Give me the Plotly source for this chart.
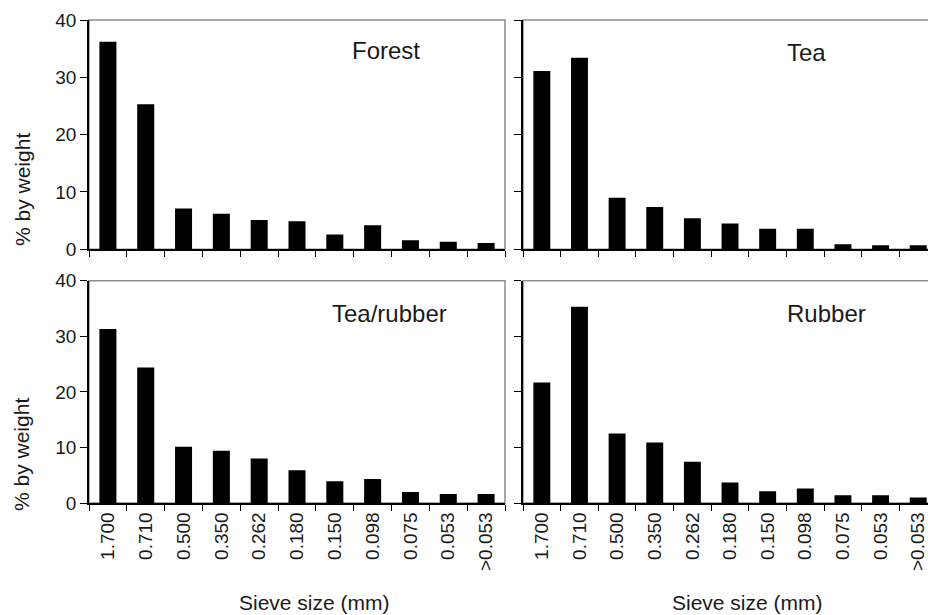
import plotly.graph_objects as go

categories = ["1.700", "0.710", "0.500", "0.350", "0.262", "0.180",
              "0.150", "0.098", "0.075", "0.053", ">0.053"]
forest = [36.2, 25.3, 7.1, 6.2, 5.1, 4.9, 2.6, 4.2, 1.6, 1.3, 1.1]
tea = [31.1, 33.4, 9.0, 7.4, 5.4, 4.5, 3.6, 3.6, 0.9, 0.7, 0.7]
tea_rubber = [31.3, 24.4, 10.1, 9.4, 8.0, 5.9, 3.9, 4.3, 2.0, 1.6, 1.6]
rubber = [21.7, 35.3, 12.5, 10.9, 7.4, 3.7, 2.1, 2.6, 1.4, 1.4, 1.0]
panel_names = ["Forest", "Tea", "Tea/rubber", "Rubber"]
y_ticks = [0, 10, 20, 30, 40]

W, H = 928, 615
FONT = "Liberation Sans, Arial, sans-serif"
TXT = "#1a1a1a"

xL = [89 / W, 505 / W]
xR = [523 / W, 1.0]
yT = [(H - 249.3) / H, (H - 20) / H]
yB = [(H - 503) / H, (H - 280.7) / H]

fig = go.Figure()
series = [forest, tea, tea_rubber, rubber]
axes = [("x", "y"), ("x2", "y2"), ("x3", "y3"), ("x4", "y4")]
for vals, (xa, ya) in zip(series, axes):
    fig.add_trace(go.Bar(x=categories, y=vals, xaxis=xa, yaxis=ya,
                         marker=dict(color="black", line=dict(width=0)),
                         showlegend=False))

right_span = (W - 523) / 37.64

def xaxis(domain, anchor, labels, rng):
    return dict(domain=domain, anchor=anchor, type="category",
                categoryorder="array", categoryarray=categories,
                range=rng, tickson="boundaries", ticks="outside", ticklen=6,
                tickcolor="black", tickwidth=1, automargin=False,
                showline=True, linecolor="black", linewidth=1.5,
                showgrid=False, zeroline=False, showticklabels=labels,
                tickangle=-90,
                tickfont=dict(family=FONT, size=19, color=TXT))

def yaxis(domain, anchor, labels):
    return dict(domain=domain, anchor=anchor, range=[0, 40],
                tickvals=y_ticks, ticks="outside", ticklen=7,
                tickcolor="black", tickwidth=1, automargin=False,
                showline=True, linecolor="black", linewidth=1.5,
                showgrid=False, zeroline=False, showticklabels=labels,
                tickfont=dict(family=FONT, size=19, color=TXT))

fig.update_layout(
    template="none",
    width=W, height=H, autosize=False,
    margin=dict(l=0, r=0, t=0, b=0, pad=0),
    plot_bgcolor="white", paper_bgcolor="white",
    bargap=0.55,
    xaxis=xaxis(xL, "y", False, [-0.5, 10.5]),
    yaxis=yaxis(yT, "x", True),
    xaxis2=xaxis(xR, "y2", False, [-0.5, -0.5 + right_span]),
    yaxis2=yaxis(yT, "x2", False),
    xaxis3=xaxis(xL, "y3", True, [-0.5, 10.5]),
    yaxis3=yaxis(yB, "x3", True),
    xaxis4=xaxis(xR, "y4", True, [-0.5, -0.5 + right_span]),
    yaxis4=yaxis(yB, "x4", False),
)

# gray frame around each panel
for i, (xa, ya) in enumerate(axes):
    fig.add_shape(type="rect", xref=f"{xa} domain", yref=f"{ya} domain",
                  x0=0, x1=1.02 if i % 2 else 1, y0=0, y1=1,
                  line=dict(color="#8c8c8c", width=1.5), layer="below")

# panel labels
label_pos = [(350, 51), (785, 52), (330, 313), (785, 313)]
for name, (px, py) in zip(panel_names, label_pos):
    fig.add_annotation(text=name, xref="paper", yref="paper",
                       x=px / W, y=(H - py) / H, xanchor="left", yanchor="middle",
                       showarrow=False, font=dict(family=FONT, size=24, color=TXT))

# axis titles
for cy in [190, 455]:
    fig.add_annotation(text="% by weight", xref="paper", yref="paper",
                       x=22 / W, y=(H - cy) / H, textangle=-90,
                       xanchor="center", yanchor="middle", showarrow=False,
                       font=dict(family=FONT, size=21, color=TXT))
for cx in [314, 747]:
    fig.add_annotation(text="Sieve size (mm)", xref="paper", yref="paper",
                       x=cx / W, y=(H - 602) / H,
                       xanchor="center", yanchor="middle", showarrow=False,
                       font=dict(family=FONT, size=21, color=TXT))

fig.write_html("out.html",
               config={"displayModeBar": False},
               post_script="document.body.style.margin='0';document.body.style.overflow='hidden';")
